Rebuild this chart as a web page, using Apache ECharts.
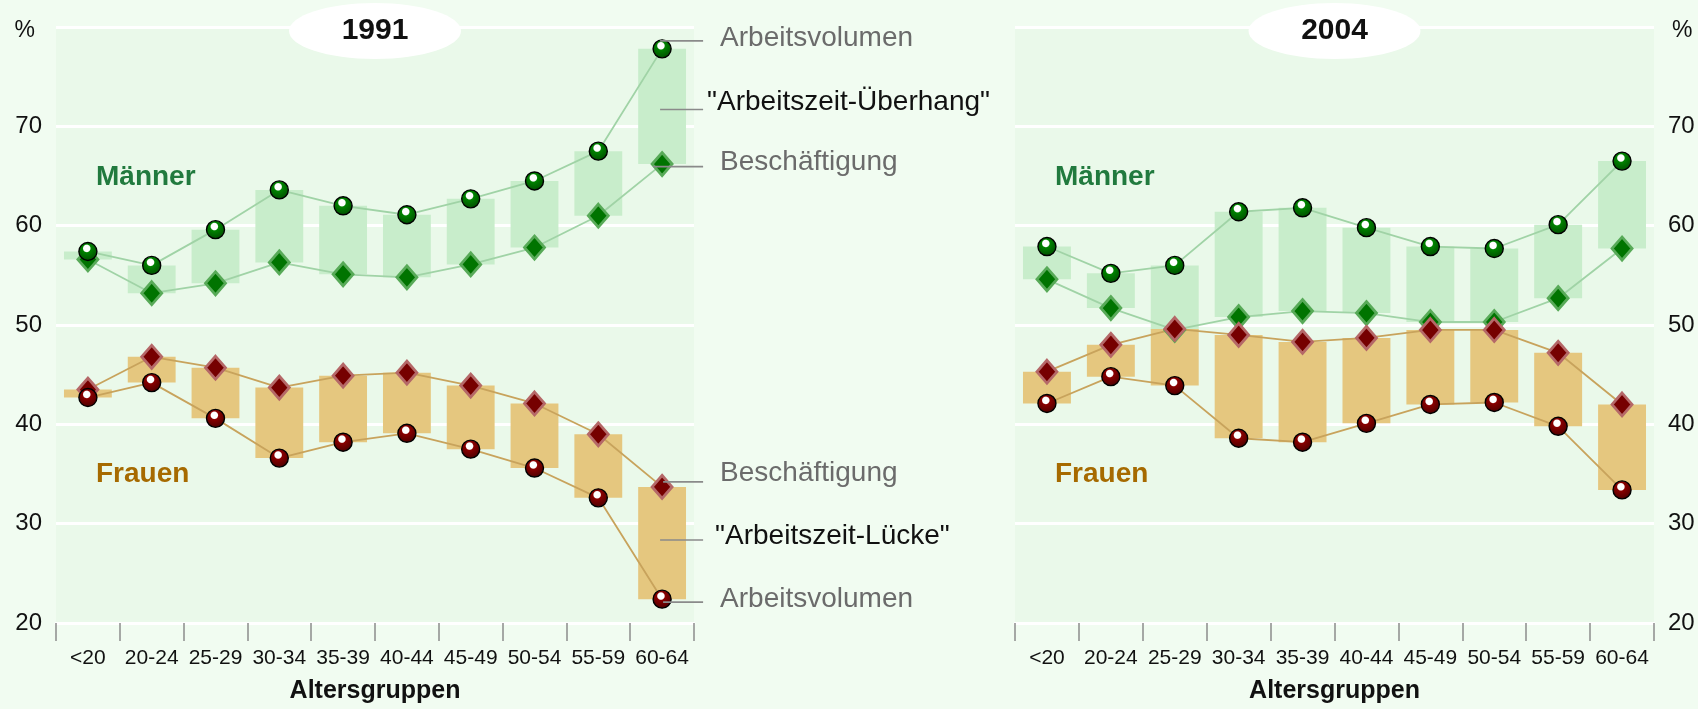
<!DOCTYPE html>
<html>
<head>
<meta charset="utf-8">
<script src="https://cdn.jsdelivr.net/npm/echarts@6/dist/echarts.min.js"></script>
<style>
html,body{margin:0;padding:0;background:#f1fcf1;}
#c{width:1698px;height:709px;}
</style>
</head>
<body>
<div id="c"></div>
<script>
// ---- data ----
const categories = ['<20','20-24','25-29','30-34','35-39','40-44','45-49','50-54','55-59','60-64'];
const yTicks = [20,30,40,50,60,70,80];
const panelTitles = ['1991','2004'];

const men1991Vol   = [57.4,56.0,59.6,63.6,62.0,61.1,62.7,64.5,67.5,77.8];
const men1991Emp   = [56.6,53.2,54.2,56.3,55.1,54.8,56.1,57.8,61.0,66.2];
const women1991Emp = [43.5,46.8,45.7,43.7,44.9,45.2,43.9,42.1,39.0,33.7];
const women1991Vol = [42.7,44.2,40.6,36.6,38.2,39.1,37.5,35.6,32.6,22.4];

const men2004Vol   = [57.9,55.2,56.0,61.4,61.8,59.8,57.9,57.7,60.1,66.5];
const men2004Emp   = [54.6,51.7,49.5,50.8,51.4,51.2,50.3,50.3,52.7,57.7];
const women2004Emp = [45.3,48.0,49.6,49.0,48.3,48.7,49.5,49.5,47.2,42.0];
const women2004Vol = [42.1,44.8,43.9,38.6,38.2,40.1,42.0,42.2,39.8,33.4];

// ---- styles ----
const FONT = 'Arial, "Liberation Sans", sans-serif';
const C = {
  bg:'#f1fcf1', plot:'#eaf9ea',
  menBar:'#c8edcb', womenBar:'#e5c77f',
  menLine:'#a0d3a6', womenLine:'#c8a35c',
  menDark:'#007400', womenDark:'#760000',
  menBevel:'#58aa58', womenBevel:'#b56868',
  menLabel:'#217a3e', womenLabel:'#a66a00'
};
const G = [
  {left:56, top:27, width:638, height:599},
  {left:1015, top:27, width:639, height:599}
];

function sphere(c1, c2){
  return {type:'radial', x:0.44, y:0.34, r:0.55, colorStops:[
    {offset:0, color:'#ffffff'},{offset:0.3, color:'#ffffff'},
    {offset:0.4, color:c1},{offset:1, color:c2}]};
}

function panelSeries(gi, mVol, mEmp, wEmp, wVol){
  const s = [];
  const mBase = mVol.map((v,i)=>Math.min(v,mEmp[i]));
  const mDiff = mVol.map((v,i)=>+Math.abs(v-mEmp[i]).toFixed(2));
  const wBase = wVol.map((v,i)=>Math.min(v,wEmp[i]));
  const wDiff = wVol.map((v,i)=>+Math.abs(v-wEmp[i]).toFixed(2));
  const barCommon = {type:'bar', xAxisIndex:gi, yAxisIndex:gi, barWidth:'75%', barGap:'-100%', silent:true};
  s.push(Object.assign({}, barCommon, {stack:'m'+gi, data:mBase, itemStyle:{color:'rgba(0,0,0,0)'}, z:1}));
  s.push(Object.assign({}, barCommon, {stack:'m'+gi, data:mDiff, itemStyle:{color:C.menBar}, z:1}));
  s.push(Object.assign({}, barCommon, {stack:'w'+gi, data:wBase, itemStyle:{color:'rgba(0,0,0,0)'}, z:1}));
  s.push(Object.assign({}, barCommon, {stack:'w'+gi, data:wDiff, itemStyle:{color:C.womenBar}, z:1}));
  const lineC = {type:'line', xAxisIndex:gi, yAxisIndex:gi, silent:true, showSymbol:true, z:3};
  function diamond(data, lc, fill, bevel){
    return Object.assign({}, lineC, {data, symbol:'diamond', symbolSize:[20,23],
      lineStyle:{color:lc, width:1.8}, itemStyle:{color:fill, borderColor:bevel, borderWidth:2.8}});
  }
  function circle(data, lc, c1, c2){
    return Object.assign({}, lineC, {data, symbol:'circle', symbolSize:18,
      lineStyle:{color:lc, width:1.8}, itemStyle:{color:sphere(c1,c2), borderColor:'#000', borderWidth:1.4}});
  }
  s.push(diamond(mEmp, C.menLine, C.menDark, C.menBevel));
  s.push(circle(mVol, C.menLine, '#008200', '#005a00'));
  s.push(diamond(wEmp, C.womenLine, C.womenDark, C.womenBevel));
  s.push(circle(wVol, C.womenLine, '#880000', '#5a0000'));
  return s;
}

function xAxis(gi){
  return {type:'category', gridIndex:gi, data:categories, boundaryGap:true,
    axisLine:{show:true, lineStyle:{color:'#ffffff', width:3}},
    axisTick:{show:true, length:18, interval:0, lineStyle:{color:'#8c8c8c', width:1.5}},
    axisLabel:{interval:0, fontSize:21, color:'#111', fontFamily:FONT, margin:25},
    splitLine:{show:false},
    name:'Altersgruppen', nameLocation:'middle', nameGap:56,
    nameTextStyle:{fontSize:25, fontWeight:'bold', color:'#111', fontFamily:FONT}};
}
function yAxis(gi){
  const right = gi===1;
  return {type:'value', gridIndex:gi, position: right?'right':'left',
    min:yTicks[0], max:yTicks[yTicks.length-1], interval:10,
    axisLine:{show:false}, axisTick:{show:false},
    splitLine:{show:true, lineStyle:{color:'#ffffff', width:3}},
    axisLabel:{fontSize:24, color:'#111', fontFamily:FONT, margin:14,
      formatter: v => v===yTicks[yTicks.length-1] ? '{p|%}' : String(v),
      rich:{p:{fontSize:23, color:'#111', fontFamily:FONT, padding: right?[8,0,0,4]:[8,7,0,0]}}}};
}

const chart = echarts.init(document.getElementById('c'), null, {renderer:'canvas'});
chart.setOption({
  backgroundColor: C.bg,
  animation:false,
  grid: G.map(g=>Object.assign({show:true, backgroundColor:C.plot, borderWidth:0}, g)),
  xAxis:[xAxis(0), xAxis(1)],
  yAxis:[yAxis(0), yAxis(1)],
  series: [].concat(
    panelSeries(0, men1991Vol, men1991Emp, women1991Emp, women1991Vol),
    panelSeries(1, men2004Vol, men2004Emp, women2004Emp, women2004Vol)
  )
});

// ---- annotations anchored to data ----
const last = categories.length-1;
function px(gi, v){ return chart.convertToPixel({xAxisIndex:gi, yAxisIndex:gi}, [last, v]); }
const graphics = [];
G.forEach((g,gi)=>{
  const cx = g.left + g.width/2;
  graphics.push({type:'ellipse', shape:{cx:cx, cy:31, rx:86, ry:28}, style:{fill:'#ffffff'}, z:10});
  graphics.push({type:'text', x:cx, y:31, style:{text:panelTitles[gi], font:'bold 30px '+FONT, fill:'#111', textAlign:'center', textVerticalAlign:'middle'}, z:11});
  const lx = g.left + 40;
  graphics.push({type:'text', x:lx, y:177, style:{text:'Männer', font:'bold 28px '+FONT, fill:C.menLabel, textVerticalAlign:'middle'}, z:11});
  graphics.push({type:'text', x:lx, y:474, style:{text:'Frauen', font:'bold 28px '+FONT, fill:C.womenLabel, textVerticalAlign:'middle'}, z:11});
});
const pMV = px(0, men1991Vol[last]), pME = px(0, men1991Emp[last]);
const pWE = px(0, women1991Emp[last]), pWV = px(0, women1991Vol[last]);
const x0 = pMV[0];
const ann = [
  {y:pMV[1]-8, dx:-2, text:'Arbeitsvolumen', col:'#6b6b6b', tx:58, ty:-3},
  {y:(pMV[1]+pME[1])/2+3, dx:-2, text:'"Arbeitszeit-Überhang"', col:'#111', tx:45, ty:-7},
  {y:pME[1]+2.5, dx:-9, text:'Beschäftigung', col:'#6b6b6b', tx:58, ty:-4},
  {y:pWE[1]-5, dx:1, text:'Beschäftigung', col:'#6b6b6b', tx:58, ty:-9},
  {y:(pWE[1]+pWV[1])/2-3, dx:-2, text:'"Arbeitszeit-Lücke"', col:'#111', tx:53, ty:-4},
  {y:pWV[1]+3, dx:1, text:'Arbeitsvolumen', col:'#6b6b6b', tx:58, ty:-3}
];
ann.forEach(a=>{
  graphics.push({type:'line', shape:{x1:x0+a.dx, y1:a.y, x2:x0+41, y2:a.y}, style:{stroke:'#8a8a8a', lineWidth:1.6}, z:12});
  graphics.push({type:'text', x:x0+a.tx, y:a.y+a.ty, style:{text:a.text, font:'28px '+FONT, fill:a.col, textVerticalAlign:'middle'}, z:12});
});
chart.setOption({graphic: graphics});
</script>
</body>
</html>
